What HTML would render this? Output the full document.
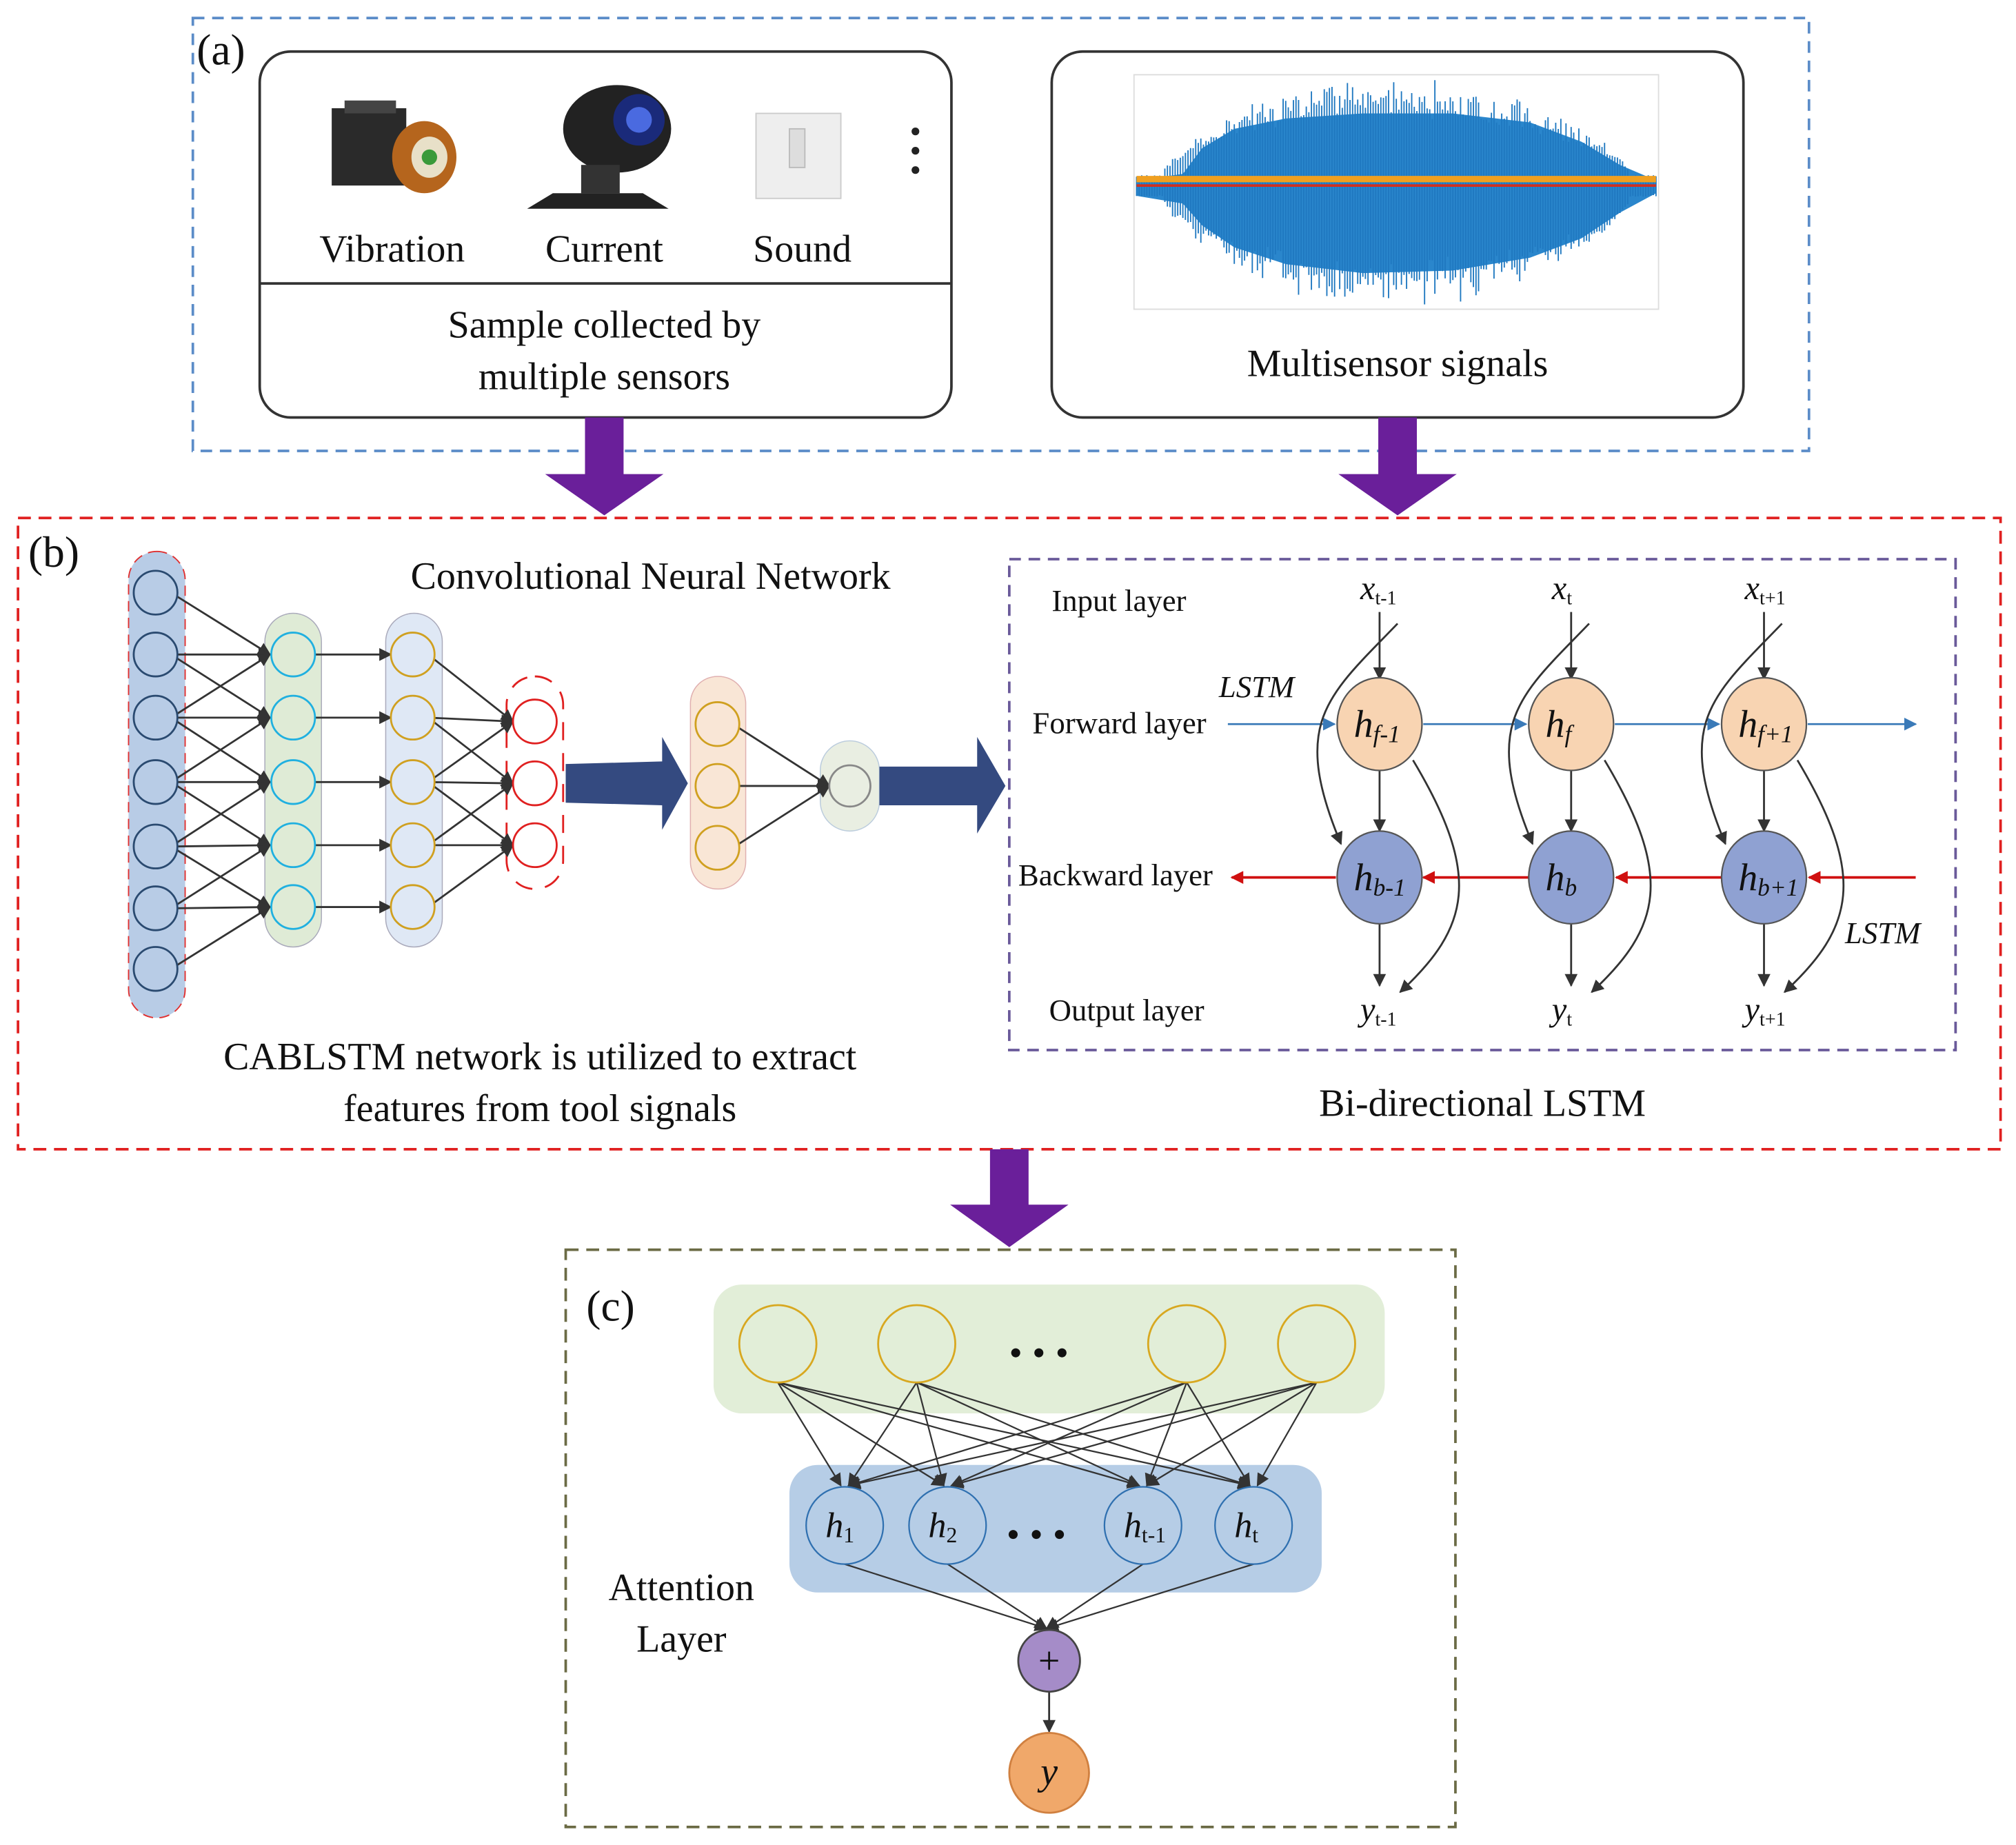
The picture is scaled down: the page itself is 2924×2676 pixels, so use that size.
<!DOCTYPE html>
<html><head><meta charset="utf-8"><style>html,body{margin:0;padding:0;background:#fff}svg{display:block}svg text,svg tspan{font-family:"Liberation Serif","DejaVu Serif",serif !important;fill:#111}</style></head>
<body>
<svg width="2924" height="2676" viewBox="0 0 1568 1432" preserveAspectRatio="none" xmlns="http://www.w3.org/2000/svg" font-family="Liberation Serif, DejaVu Serif, serif">
<defs>
<marker id="ak" markerWidth="10" markerHeight="10" refX="9" refY="5" orient="auto" markerUnits="userSpaceOnUse"><path d="M0,0 L10,5 L0,10 z" fill="#333"/></marker>
<marker id="ab" markerWidth="10" markerHeight="10" refX="9" refY="5" orient="auto" markerUnits="userSpaceOnUse"><path d="M0,0 L10,5 L0,10 z" fill="#3a7ab8"/></marker>
<marker id="ar" markerWidth="10" markerHeight="10" refX="9" refY="5" orient="auto" markerUnits="userSpaceOnUse"><path d="M0,0 L10,5 L0,10 z" fill="#d01010"/></marker>
</defs>
<rect x="150" y="14" width="1257" height="336" fill="none" stroke="#5b8cc8" stroke-width="2" stroke-dasharray="9,6"/>
<text x="153" y="50" font-size="34">(a)</text>
<rect x="202" y="40" width="538" height="284" rx="24" fill="#fff" stroke="#333" stroke-width="2"/>
<line x1="202" y1="220" x2="740" y2="220" stroke="#333" stroke-width="2"/>
<rect x="258" y="84" width="58" height="60" fill="#2a2a2a"/><rect x="268" y="78" width="40" height="10" fill="#444"/>
<ellipse cx="330" cy="122" rx="25" ry="28" fill="#b5651d"/><ellipse cx="334" cy="122" rx="14" ry="16" fill="#e8e0c8"/><circle cx="334" cy="122" r="6" fill="#3a9a3a"/>
<ellipse cx="480" cy="100" rx="42" ry="34" fill="#222"/><circle cx="497" cy="93" r="20" fill="#1a2a7a"/><circle cx="497" cy="93" r="10" fill="#4a6ae0"/>
<rect x="452" y="128" width="30" height="22" fill="#333"/><path d="M410 162 L520 162 L500 150 L430 150 Z" fill="#222"/>
<rect x="588" y="88" width="66" height="66" fill="#eeeeee" stroke="#ccc"/><rect x="614" y="100" width="12" height="30" fill="#ddd" stroke="#bbb"/>
<circle cx="712" cy="102" r="3" fill="#222"/><circle cx="712" cy="117" r="3" fill="#222"/><circle cx="712" cy="132" r="3" fill="#222"/>
<text x="305" y="203" font-size="30" text-anchor="middle">Vibration</text>
<text x="470" y="203" font-size="30" text-anchor="middle">Current</text>
<text x="624" y="203" font-size="30" text-anchor="middle">Sound</text>
<text x="470" y="262" font-size="30" text-anchor="middle">Sample collected by</text>
<text x="470" y="302" font-size="30" text-anchor="middle">multiple sensors</text>
<rect x="818" y="40" width="538" height="284" rx="24" fill="#fff" stroke="#333" stroke-width="2"/>
<rect x="882" y="58" width="408" height="182" fill="#fff" stroke="#ddd"/>
<path d="M884 140 L920 135 L935 115 L960 100 L1000 92 L1060 88 L1130 88 L1190 95 L1230 110 L1260 128 L1288 140 L1288 150 L1260 165 L1230 185 L1190 200 L1130 210 L1060 212 L1000 205 L960 192 L935 175 L920 158 L884 152 Z" fill="#2a86cc"/>
<g id="wav" stroke="#1f78c0" stroke-width="1"></g>
<line x1="884" y1="139" x2="1288" y2="139" stroke="#f0a020" stroke-width="5"/>
<line x1="884" y1="144" x2="1288" y2="144" stroke="#d03020" stroke-width="2"/>
<text x="1087" y="292" font-size="30" text-anchor="middle">Multisensor signals</text>
<path d="M455 324 L485 324 L485 368 L516 368 L470 400 L424 368 L455 368 Z" fill="#6a1f9a"/>
<path d="M1072 324 L1102 324 L1102 368 L1133 368 L1087 400 L1041 368 L1072 368 Z" fill="#6a1f9a"/>
<rect x="14" y="402" width="1542" height="490" fill="none" stroke="#e02020" stroke-width="2" stroke-dasharray="10,6"/>
<text x="22" y="440" font-size="34">(b)</text>
<text x="506" y="457" font-size="30" text-anchor="middle">Convolutional Neural Network</text>
<rect x="100" y="428" width="44" height="362" rx="22" fill="#b8cce6" stroke="#e03030" stroke-dasharray="8,5"/>
<rect x="206" y="476" width="44" height="259" rx="22" fill="#dfebd6" stroke="#aab" stroke-width="0.8"/>
<rect x="300" y="476" width="44" height="259" rx="22" fill="#dfe8f5" stroke="#aab" stroke-width="0.8"/>
<rect x="394" y="525" width="44" height="165" rx="22" fill="#fff" stroke="#e02020" stroke-width="1.5" stroke-dasharray="14,10"/>
<rect x="537" y="525" width="43" height="165" rx="21" fill="#f9e6d6" stroke="#e0b0b0" stroke-width="0.8"/>
<rect x="638" y="575" width="46" height="70" rx="23" fill="#e9eee2" stroke="#bcd" stroke-width="0.8"/>
<g id="cnn" stroke="#333" stroke-width="1.5" fill="none"></g>
<path d="M440 593 L515 591 L515 572 L535 608 L515 644 L515 625 L440 623 Z" fill="#344a80"/>
<path d="M684 595 L760 595 L760 572 L782 610 L760 647 L760 625 L684 625 Z" fill="#344a80"/>
<text x="420" y="830" font-size="30" text-anchor="middle">CABLSTM network is utilized to extract</text>
<text x="420" y="870" font-size="30" text-anchor="middle">features from tool signals</text>
<rect x="785" y="434" width="736" height="381" fill="none" stroke="#6a5a9a" stroke-width="2" stroke-dasharray="9,6"/>
<text x="818" y="474" font-size="24">Input layer</text>
<text x="803" y="569" font-size="24">Forward layer</text>
<text x="792" y="687" font-size="24">Backward layer</text>
<text x="816" y="792" font-size="24">Output layer</text>
<text x="948" y="541" font-size="24" font-style="italic">LSTM</text>
<text x="1435" y="732" font-size="24" font-style="italic">LSTM</text>
<line x1="955" y1="562" x2="1038" y2="562" stroke="#3a7ab8" stroke-width="1.5" marker-end="url(#ab)"/>
<line x1="1107" y1="562" x2="1187" y2="562" stroke="#3a7ab8" stroke-width="1.5" marker-end="url(#ab)"/>
<line x1="1256" y1="562" x2="1337" y2="562" stroke="#3a7ab8" stroke-width="1.5" marker-end="url(#ab)"/>
<line x1="1406" y1="562" x2="1490" y2="562" stroke="#3a7ab8" stroke-width="1.5" marker-end="url(#ab)"/>
<line x1="1490" y1="681" x2="1407" y2="681" stroke="#d01010" stroke-width="2" marker-end="url(#ar)"/>
<line x1="1339" y1="681" x2="1257" y2="681" stroke="#d01010" stroke-width="2" marker-end="url(#ar)"/>
<line x1="1189" y1="681" x2="1107" y2="681" stroke="#d01010" stroke-width="2" marker-end="url(#ar)"/>
<line x1="1039" y1="681" x2="958" y2="681" stroke="#d01010" stroke-width="2" marker-end="url(#ar)"/>
<g id="lstm"></g>
<text x="1153" y="866" font-size="30" text-anchor="middle">Bi-directional LSTM</text>
<path d="M770 892 L800 892 L800 935 L831 935 L785 968 L739 935 L770 935 Z" fill="#6a1f9a"/>
<rect x="440" y="970" width="692" height="448" fill="none" stroke="#6b6b45" stroke-width="2" stroke-dasharray="10,6"/>
<text x="456" y="1025" font-size="34">(c)</text>
<rect x="555" y="997" width="522" height="100" rx="22" fill="#e2eed8"/>
<rect x="614" y="1137" width="414" height="99" rx="22" fill="#b6cde6"/>
<g id="att"></g>
<text x="530" y="1242" font-size="30" text-anchor="middle">Attention</text>
<text x="530" y="1282" font-size="30" text-anchor="middle">Layer</text>
</svg>
<script>
var NS="http://www.w3.org/2000/svg";
function el(p,t,a,txt){var e=document.createElementNS(NS,t);for(var k in a)e.setAttribute(k,a[k]);if(txt!=null)e.textContent=txt;p.appendChild(e);return e;}
var w=document.getElementById("wav");
for(var x=884;x<=1288;x+=2){var t=(x-884)/404;var env=Math.pow(Math.sin(Math.PI*Math.min(1,Math.max(0,(t-0.05)/0.9))),0.6);var a=6+env*(55+25*Math.random());el(w,"line",{x1:x,y1:142-a*(0.8+0.2*Math.random()),x2:x,y2:146+a*(0.9+0.2*Math.random())});}
var g=document.getElementById("cnn");
var c1=[460,508,557,607,657,705,752],c2=[508,557,607,656,704],c4=[560,608,656],c5=[562,610,658];
function L(x1,y1,x2,y2,m){var o={x1:x1,y1:y1,x2:x2,y2:y2};if(m)o["marker-end"]="url(#ak)";el(g,"line",o);}
for(var i=0;i<7;i++)for(var j=0;j<5;j++){var d=(i-1)-j;if(Math.abs(d)<=1 || (i==0&&j==0)||(i==6&&j==4))L(133,c1[i],210,c2[j],true);}
for(var j=0;j<5;j++)L(240,c2[j],304,c2[j],true);
for(var j=0;j<5;j++)for(var k=0;k<3;k++){if(Math.abs(j-1-k)<=1)L(333,c2[j],399,c4[k],true);}
for(var k=0;k<3;k++)L(570,c5[k],645,610,true);
c1.forEach(function(y){el(g,"circle",{cx:121,cy:y,r:17,stroke:"#2a4a70",fill:"#b8cce6"});});
c2.forEach(function(y){el(g,"circle",{cx:228,cy:y,r:17,stroke:"#20b0e0",fill:"#dfebd6"});});
c2.forEach(function(y){el(g,"circle",{cx:321,cy:y,r:17,stroke:"#d0a020",fill:"#dfe8f5"});});
c4.forEach(function(y){el(g,"circle",{cx:416,cy:y,r:17,stroke:"#e02020",fill:"#fff"});});
c5.forEach(function(y){el(g,"circle",{cx:558,cy:y,r:17,stroke:"#d0a020",fill:"#f9e6d6"});});
el(g,"circle",{cx:661,cy:610,r:16,stroke:"#888",fill:"#e9eee2"});
var ls=document.getElementById("lstm");
var xs=[1073,1222,1372],xsub=["t-1","t","t+1"],fsub=["f-1","f","f+1"],bsub=["b-1","b","b+1"];
xs.forEach(function(x,i){
 var s={stroke:"#333","stroke-width":1.5,fill:"none","marker-end":"url(#ak)"};
 el(ls,"line",Object.assign({x1:x,y1:475,x2:x,y2:527},s));
 el(ls,"line",Object.assign({x1:x,y1:598,x2:x,y2:645},s));
 el(ls,"line",Object.assign({x1:x,y1:716,x2:x,y2:765},s));
 el(ls,"path",Object.assign({d:"M"+(x+14)+" 484 C"+(x-40)+" 540 "+(x-70)+" 560 "+(x-30)+" 655"},s));
 el(ls,"path",Object.assign({d:"M"+(x+26)+" 590 C"+(x+80)+" 680 "+(x+70)+" 720 "+(x+16)+" 770"},s));
 el(ls,"ellipse",{cx:x,cy:562,rx:33,ry:36,fill:"#f8d4b2",stroke:"#555","stroke-width":1.2});
 el(ls,"ellipse",{cx:x,cy:681,rx:33,ry:36,fill:"#8fa1d2",stroke:"#555","stroke-width":1.2});
 var t=el(ls,"text",{x:x-20,y:572,"font-size":30,"font-style":"italic"},"h");el(t,"tspan",{"font-size":19,dy:4},fsub[i]);
 t=el(ls,"text",{x:x-20,y:691,"font-size":30,"font-style":"italic"},"h");el(t,"tspan",{"font-size":19,dy:4},bsub[i]);
 t=el(ls,"text",{x:x-15,y:465,"font-size":26,"font-style":"italic"},"x");el(t,"tspan",{"font-size":15,dy:4,"font-style":"normal"},xsub[i]);
 t=el(ls,"text",{x:x-15,y:792,"font-size":26,"font-style":"italic"},"y");el(t,"tspan",{"font-size":15,dy:4,"font-style":"normal"},xsub[i]);
});
var at=document.getElementById("att");
var tops=[605,713,923,1024],hs=[657,737,889,975],hl=["1","2","t-1","t"];
tops.forEach(function(a){hs.forEach(function(b){el(at,"line",{x1:a,y1:1073,x2:b+(a<b?-3:3),y2:1153,stroke:"#333","stroke-width":1.2,"marker-end":"url(#ak)"});});});
hs.forEach(function(b){el(at,"line",{x1:b,y1:1214,x2:814,y2:1264,stroke:"#333","stroke-width":1.2,"marker-end":"url(#ak)"});});
el(at,"line",{x1:816,y1:1313,x2:816,y2:1344,stroke:"#333","stroke-width":1.5,"marker-end":"url(#ak)"});
tops.forEach(function(a){el(at,"circle",{cx:a,cy:1043,r:30,fill:"#e2eed8",stroke:"#d8a820","stroke-width":1.5});});
hs.forEach(function(b,i){el(at,"circle",{cx:b,cy:1184,r:30,fill:"#b6cde6",stroke:"#2f70b0","stroke-width":1.2});var t=el(at,"text",{x:b-15,y:1193,"font-size":28,"font-style":"italic"},"h");el(t,"tspan",{"font-size":17,dy:4,"font-style":"normal"},hl[i]);});
[790,808,826].forEach(function(x){el(at,"circle",{cx:x,cy:1050,r:3.5,fill:"#111"});el(at,"circle",{cx:x-2,cy:1191,r:3.5,fill:"#111"});});
el(at,"circle",{cx:816,cy:1289,r:24,fill:"#a58cc8",stroke:"#444","stroke-width":1.5});
el(at,"text",{x:816,y:1299,"font-size":30,"text-anchor":"middle"},"+");
el(at,"circle",{cx:816,cy:1376,r:31,fill:"#f0a86a",stroke:"#d08040","stroke-width":1.5});
el(at,"text",{x:816,y:1385,"font-size":30,"font-style":"italic","text-anchor":"middle"},"y");
</script>
</body></html>
